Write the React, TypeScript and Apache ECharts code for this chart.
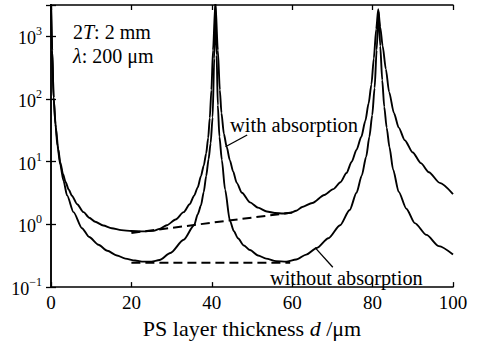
import React, { useEffect, useRef } from 'react';
import * as echarts from 'echarts';

const FONT = 'Liberation Serif';

const xMin = 0;
const xMax = 100;
const xInterval = 20;
const yMin = 0.1;
const yMax = 3162.28;

// transmission with absorption  [d (um), value]
const withAbsorption: [number, number][] = [
  [0, 3500], [0.3, 600], [0.65, 105], [1.2, 35], [1.8, 16], [2.3, 9.8], [3.0, 6.3], [3.6, 4.8],
  [4.4, 3.6], [5.2, 2.87], [6.5, 2.1], [8.1, 1.57], [9.5, 1.28], [11, 1.1], [13, 0.96],
  [15.1, 0.87], [17.5, 0.81], [20, 0.785], [23, 0.775], [25.5, 0.79], [27, 0.85], [28.8, 0.97],
  [31, 1.2], [33, 1.57], [34.5, 2.1], [35.6, 2.87], [36.5, 3.9], [37.3, 5.9], [38, 8.7],
  [38.6, 13.6], [39.1, 24], [39.5, 50], [39.9, 140], [40.3, 600], [40.9, 3500],
  [41.5, 600], [42.0, 140], [42.4, 60], [43.0, 28], [43.7, 17.3], [44.5, 10.5], [45.3, 7],
  [46.2, 4.6], [47.5, 3.2], [49.5, 2.25], [51.5, 1.85], [53.7, 1.61], [55.7, 1.52],
  [57.8, 1.49], [59.5, 1.53], [61, 1.65], [62.5, 1.9], [65, 2.2], [68, 2.95], [70.2, 3.65],
  [72, 4.7], [73.5, 6.6], [74.8, 10], [76, 15.5], [77.2, 25], [78.2, 45], [79, 85],
  [79.7, 170], [80.3, 443], [80.9, 1300], [81.4, 2700], [81.9, 1400], [82.5, 700],
  [83.3, 300], [84.1, 130], [85.3, 60], [86.5, 35], [88, 22], [90, 14], [92, 9.5], [94, 6.8],
  [96.7, 4.6], [100, 3.05],
];

// transmission without absorption
const withoutAbsorption: [number, number][] = [
  [0, 3500], [0.3, 600], [0.65, 105], [1.1, 40], [1.6, 18], [2.3, 9], [3.1, 5.0], [4.0, 2.9],
  [5.6, 1.57], [7.7, 0.87], [9.5, 0.63], [11.8, 0.475], [14, 0.38], [16.4, 0.32], [18.5, 0.285],
  [20.9, 0.265], [23, 0.255], [25, 0.255], [27, 0.27], [29.7, 0.35], [33, 0.57], [35.6, 0.97],
  [36.5, 1.45], [37.3, 2.0], [38, 3.3], [38.6, 5.9], [39.2, 11], [39.7, 19.5], [40.2, 51],
  [40.6, 443], [40.9, 3500], [41.2, 500], [41.5, 80], [41.9, 25], [42.5, 10.7], [43.3, 3.6],
  [44.5, 1.15], [45.5, 0.78], [46.5, 0.6], [48, 0.46], [49.5, 0.39], [51.5, 0.32],
  [53.5, 0.285], [56, 0.26], [58.5, 0.255], [61, 0.275], [63.5, 0.33], [66.1, 0.42],
  [69, 0.6], [71.9, 0.97], [74.3, 1.7], [76, 3.2], [77.3, 6], [78.4, 12], [79.2, 25],
  [79.9, 55], [80.5, 150], [81.0, 600], [81.5, 2500], [81.9, 700], [82.4, 200], [82.9, 75],
  [83.5, 35], [84.2, 17], [85.1, 7.5], [86.5, 3.3], [88.4, 1.78], [90.5, 1.05], [93.4, 0.68],
  [96.5, 0.45], [100, 0.33],
];

const withMinTrend: [number, number][] = [[20, 0.73], [60, 1.55]];
const withoutMinTrend: [number, number][] = [[20, 0.245], [59.5, 0.245]];
const withPointer: [number, number][] = [[43.4, 17.3], [48.8, 26.7]];
const withoutPointer: [number, number][] = [[65.7, 0.426], [70.1, 0.207]];

const supMap: Record<string, string> = { '-1': '−1', '0': '0', '1': '1', '2': '2', '3': '3' };

function logLabel(v: number): string {
  const e = Math.log10(v);
  const r = Math.round(e);
  if (Math.abs(e - r) > 1e-6) return '';
  return '{b|10}{s|' + (supMap[String(r)] ?? String(r)) + '}';
}

export default function App() {
  const ref = useRef<HTMLDivElement>(null);
  useEffect(() => {
    if (!ref.current) return;
    const chart = echarts.init(ref.current, null, { renderer: 'svg' });
    const axisLine = { show: true, lineStyle: { color: '#000', width: 1.5 } };
    const axisTick = { show: true, inside: true, length: 5, lineStyle: { color: '#000', width: 1.3 } };
    const curve = (name: string, data: [number, number][]) => ({
      name, type: 'line', data, showSymbol: false, smooth: 0.25, smoothMonotone: 'x',
      lineStyle: { color: '#000', width: 1.9 }, silent: true, z: 3,
    });
    const seg = (name: string, data: [number, number][], dashed: boolean, width: number) => ({
      name, type: 'line', data, showSymbol: false,
      lineStyle: { color: '#000', width, type: dashed ? [9, 5] : 'solid' }, silent: true, z: 2,
    });
    chart.setOption({
      animation: false,
      backgroundColor: '#fff',
      textStyle: { fontFamily: FONT },
      grid: { left: 51, right: 28, top: 5, bottom: 51, containLabel: false },
      xAxis: [
        {
          type: 'value', min: xMin, max: xMax, interval: xInterval, position: 'bottom',
          axisLine, axisTick, splitLine: { show: false },
          axisLabel: { color: '#000', fontFamily: FONT, fontSize: 19, margin: 6 },
          name: 'PS layer thickness {i|d} /μm', nameLocation: 'middle', nameGap: 28,
          nameTextStyle: {
            color: '#000', fontFamily: FONT, fontSize: 22,
            rich: { i: { fontFamily: FONT, fontSize: 22, fontStyle: 'italic', color: '#000' } },
          },
        },
        {
          type: 'value', min: xMin, max: xMax, interval: xInterval, position: 'top',
          axisLine, axisTick, splitLine: { show: false }, axisLabel: { show: false },
        },
      ],
      yAxis: [
        {
          type: 'log', logBase: 10, min: yMin, max: yMax, position: 'left',
          axisLine, axisTick, splitLine: { show: false }, minorTick: { show: false },
          axisLabel: {
            color: '#000', margin: 9, formatter: logLabel,
            rich: {
              b: { fontFamily: FONT, fontSize: 18, color: '#000', verticalAlign: 'bottom', lineHeight: 22 },
              s: { fontFamily: FONT, fontSize: 12, color: '#000', verticalAlign: 'top', lineHeight: 22 },
            },
          },
        },
        {
          type: 'log', logBase: 10, min: yMin, max: yMax, position: 'right',
          axisLine, axisTick, splitLine: { show: false }, axisLabel: { show: false },
        },
      ],
      series: [
        curve('with absorption', withAbsorption),
        curve('without absorption', withoutAbsorption),
        seg('with min', withMinTrend, true, 2),
        seg('without min', withoutMinTrend, true, 2),
        seg('with pointer', withPointer, false, 1.3),
        seg('without pointer', withoutPointer, false, 1.3),
      ],
      graphic: [
        {
          type: 'text', x: 73, y: 32,
          style: {
            text: '{n|2}{i|T}{n|: 2 mm}', verticalAlign: 'middle', fill: '#000',
            rich: {
              n: { fontFamily: FONT, fontSize: 20, fill: '#000' },
              i: { fontFamily: FONT, fontSize: 20, fontStyle: 'italic', fill: '#000' },
            },
          },
        },
        {
          type: 'text', x: 73, y: 56,
          style: {
            text: '{i|λ}{n|: 200 μm}', verticalAlign: 'middle', fill: '#000',
            rich: {
              n: { fontFamily: FONT, fontSize: 20, fill: '#000' },
              i: { fontFamily: FONT, fontSize: 20, fontStyle: 'italic', fill: '#000' },
            },
          },
        },
        {
          type: 'text', x: 230, y: 125,
          style: { text: 'with absorption', fontFamily: FONT, fontSize: 20.5, fill: '#000', verticalAlign: 'middle' },
        },
        {
          type: 'text', x: 270, y: 278,
          style: { text: 'without absorption', fontFamily: FONT, fontSize: 20.3, fill: '#000', verticalAlign: 'middle' },
        },
      ],
    });
    return () => chart.dispose();
  }, []);
  return (
    <div
      ref={ref}
      style={{ position: 'fixed', left: 0, top: 0, width: 481, height: 344, background: '#fff' }}
    />
  );
}
